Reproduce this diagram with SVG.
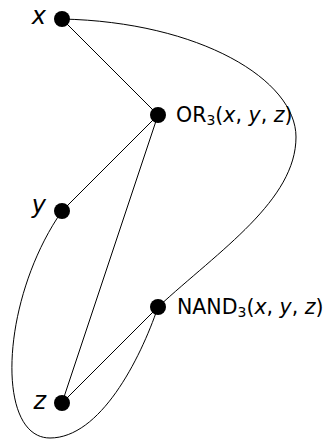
<svg xmlns="http://www.w3.org/2000/svg" width="325" height="440" viewBox="0 0 325 440">
<style>
.n{fill:#000}
.e{fill:none;stroke:#000;stroke-width:1}
.lab{font-family:"DejaVu Sans",sans-serif;font-size:24px;font-style:italic;text-anchor:end}
.fn{font-family:"DejaVu Sans",sans-serif;font-size:20.5px}
.it{font-style:italic}
.sub{font-size:14px}
</style>
<rect width="325" height="440" fill="#fff"/>
<g id="connectors">
<line class="e" x1="62" y1="19" x2="158" y2="115"/>
<line class="e" x1="158" y1="115" x2="62" y2="211"/>
<line class="e" x1="158" y1="115" x2="62" y2="403"/>
<line class="e" x1="158" y1="307" x2="62" y2="403"/>
<path class="e" d="M62,19 C200,22 296,80 296,137 C296,200 220,250 158,307"/>
<path class="e" d="M62,211 C0,300 -5,438 50,438 C100,438 140,360 158,307"/>
</g>
<g id="node-x"><circle class="n" cx="62" cy="19" r="8"/><text class="lab" x="46" y="24">x</text></g>
<g id="node-or"><circle class="n" cx="158" cy="115" r="8"/><text class="fn" x="176" y="122">OR<tspan class="sub" dy="3">3</tspan><tspan dy="-3">(</tspan><tspan class="it">x</tspan>, <tspan class="it">y</tspan>, <tspan class="it">z</tspan>)</text></g>
<g id="node-y"><circle class="n" cx="62" cy="211" r="8"/><text class="lab" x="46" y="213">y</text></g>
<g id="node-nand"><circle class="n" cx="158" cy="307" r="8"/><text class="fn" x="177" y="314">NAND<tspan class="sub" dy="3">3</tspan><tspan dy="-3">(</tspan><tspan class="it">x</tspan>, <tspan class="it">y</tspan>, <tspan class="it">z</tspan>)</text></g>
<g id="node-z"><circle class="n" cx="62" cy="403" r="8"/><text class="lab" x="46" y="409">z</text></g>
</svg>
